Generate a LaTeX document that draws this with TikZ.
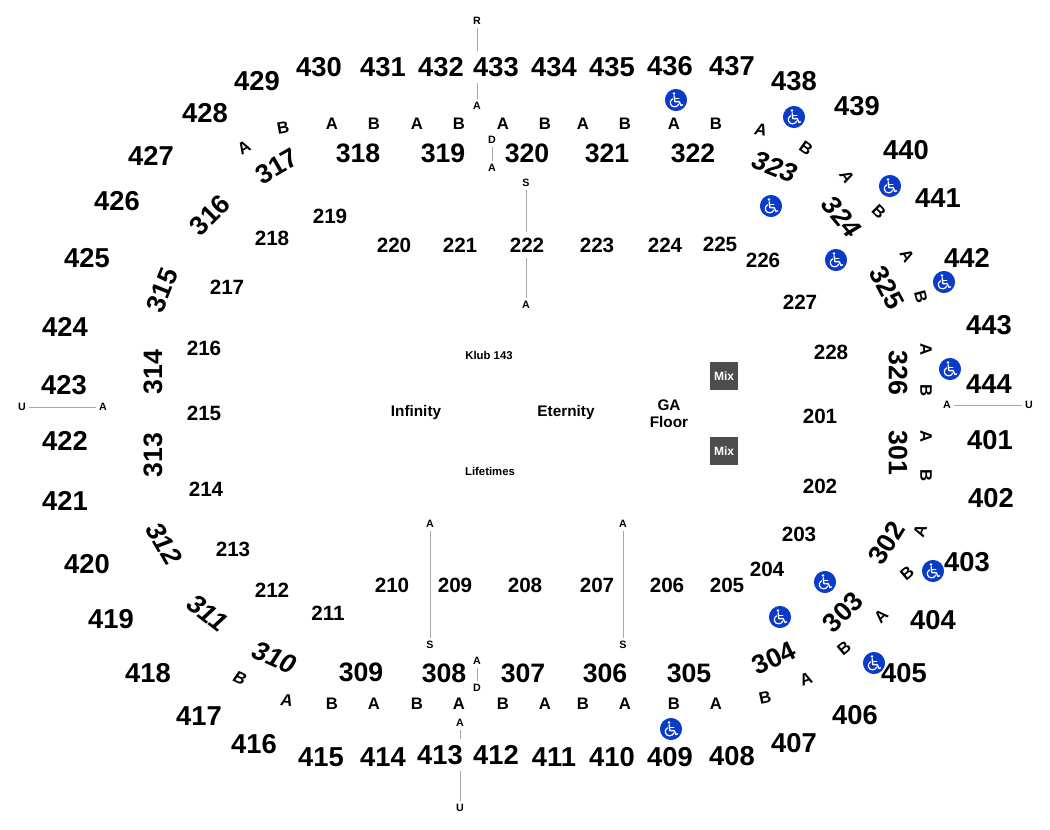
\documentclass[tikz,border=0pt]{standalone}
\usepackage{fontspec}
\setmainfont{Liberation Sans}
\definecolor{wcblue}{HTML}{0B3CC9}
\definecolor{mixgrey}{HTML}{4D4D4D}
\definecolor{rulegrey}{HTML}{A8A8A8}
\tikzset{
  lab/.style={inner sep=0pt,font=\bfseries,text=black},
  upper/.style={lab,font=\fontsize{20.5}{20.5}\selectfont\bfseries},
  mid/.style={lab,font=\fontsize{20}{20}\selectfont\bfseries},
  lower/.style={lab,font=\fontsize{15.5}{15.5}\selectfont\bfseries},
  rowl/.style={lab,font=\fontsize{12.5}{12.5}\selectfont\bfseries},
  tiny/.style={lab,font=\fontsize{8}{8}\selectfont\bfseries},
  zone/.style={lab,font=\fontsize{11.5}{12.5}\selectfont\bfseries,align=center},
  klub/.style={lab,font=\fontsize{8.5}{8.5}\selectfont\bfseries},
  wcb/.style={circle,fill=wcblue,minimum size=16.6pt,inner sep=0pt},
  wcg/.style={white,line width=1pt,line cap=round,line join=round},
  mixbox/.style={fill=mixgrey,text=white,minimum width=21.5pt,minimum height=21.5pt,inner sep=0pt,font=\fontsize{9}{9}\selectfont\bfseries},
  aisle/.style={rulegrey,line width=0.6pt},
  sk/.style={xslant=0.16},
  gapnode/.style={outer sep=2pt}
}
\newcommand{\wcicon}[3]{%
  \node[wcb] (#1) at (#2,#3) {};
  \begin{scope}[shift={(#2,#3)}]
    \fill[white] (-2,-6.5) circle[radius=1.35];
    \draw[wcg] (-1.8,-4.2) -- (-1.2,1.6) -- (3.2,1.6) -- (5,5.6) -- (6.6,4.8);
    \draw[wcg] (-1.5,-1.6) -- (2.8,-1.6);
    \draw[wcg,line width=0.9pt] (-3.4,-1.2) .. controls (-7.6,1.2) and (-5.6,7.2) .. (-1.2,6.8) .. controls (0.8,6.6) and (2.2,5.6) .. (2.8,4);
  \end{scope}}
\begin{document}
\begin{tikzpicture}[x=0.75pt,y=-0.75pt]
\useasboundingbox (0,0) rectangle (1050,830);
% upper ring
\foreach \t/\x/\y in {429/257/81,430/319/67,431/383/67,432/441/67,433/496/67,434/554/67,435/612/67,436/670/66,437/732/66,438/794/81,439/857/106,440/906/150,441/938/198,442/967/258,443/989/325,444/989/384,401/990/440,402/991/498,403/967/562,404/933/620,405/904/673,406/855/715,407/794/743,408/732/756,409/670/757,410/612/757,411/554/757,412/496/755,413/440/755,414/383/757,415/321/757,416/254/744,417/199/716,418/148/673,419/111/619,420/87/564,421/65/501,422/65/441,423/64/385,424/65/327,425/87/258,426/117/201,427/151/156,428/205/113}
  {\node[upper,gapnode] (n\t) at (\x,\y) {\t};}
% middle ring
\foreach \t/\x/\y/\r in {301/898/453/-90,326/898/373/-90,325/887/288/-62,302/887/543/58,303/843/612/45,304/774/658/25,305/689/673/0,306/605/673/0,307/523/673/0,308/444/673/0,309/361/672/0,313/153/455/90,314/153/372/90,315/162/290/68,316/210/215/45,317/277/166/30,318/358/153/0,319/443/153/0,320/527/153/0,321/607/153/0,322/693/153/0}
  {\node[mid,rotate=\r] (n\t) at (\x,\y) {\t};}
\foreach \t/\x/\y/\r in {310/275/658/-24,311/208/613/-38,312/164/544/-60,323/775/167/-22,324/842/217/-50}
  {\node[mid,rotate=\r,sk] (n\t) at (\x,\y) {\t};}
% lower ring
\foreach \t/\x/\y in {201/820/416,202/820/486,203/799/534,204/767/569,205/727/585,206/667/585,207/597/585,208/525/585,209/455/585,210/392/585,211/328/613,212/272/590,213/233/549,214/206/489,215/204/413,216/204/348,217/227/287,218/272/238,219/330/216,220/394/245,221/460/245,222/527/245,223/597/245,224/665/245,225/720/244,226/763/260,227/800/302,228/831/352}
  {\node[lower,gapnode] (n\t) at (\x,\y) {\t};}
% row letters
\foreach \t/\x/\y/\r [count=\i] in {B/283/128/10,A/332/124/0,B/374/124/0,A/417/124/0,B/459/124/0,A/503/124/0,B/545/124/0,A/583/124/0,B/625/124/0,A/674/124/0,B/716/124/0,B/806/148/-35,B/879/212/-45,A/907/256/-60,B/921/297/-75,A/926/350/-90,B/926/391/-90,A/926/437/-90,B/926/476/-90,A/920/531/70,B/907/573/40,A/881/616/45,B/844/648/40,A/806/679/20,B/765/698/12,A/716/704/0,B/674/704/0,A/625/704/0,B/583/704/0,A/545/704/0,B/503/704/0,A/459/704/0,B/417/704/0,A/374/704/0,B/332/704/0,A/244/148/30}
  {\node[rowl,rotate=\r] (r\i) at (\x,\y) {\t};}
\foreach \t/\x/\y/\r [count=\i] in {A/761/130/-8,A/847/177/-55,A/287/700/-5,B/240/678/-25}
  {\node[rowl,rotate=\r,sk] (s\i) at (\x,\y) {\t};}
% aisle tags
\node[tiny] (tR) at (477,21) {R};
\node[tiny] (tA1) at (477,106) {A};
\node[tiny] (tD1) at (492,140) {D};
\node[tiny] (tA2) at (492,168) {A};
\node[tiny] (tS1) at (526,183) {S};
\node[tiny] (tA3) at (526,305) {A};
\node[tiny] (tU1) at (22,407) {U};
\node[tiny] (tA4) at (103,407) {A};
\node[tiny] (tA5) at (947,405) {A};
\node[tiny] (tU2) at (1029,405) {U};
\node[tiny] (tA6) at (430,524) {A};
\node[tiny] (tS2) at (430,645) {S};
\node[tiny] (tA7) at (623,524) {A};
\node[tiny] (tS3) at (623,645) {S};
\node[tiny] (tA8) at (477,661) {A};
\node[tiny] (tD2) at (477,688) {D};
\node[tiny] (tA9) at (460,723) {A};
\node[tiny] (tU3) at (460,808) {U};
\begin{scope}[aisle,shorten >=2.5pt,shorten <=2.5pt]
\draw (tR) -- (tR|-n433.north);
\draw (tA1|-n433.south) -- (tA1);
\draw (tD1) -- (tA2);
\draw (tS1) -- (tS1|-n222.north);
\draw (tS1|-n222.south) -- (tA3);
\draw (tU1) -- (tA4);
\draw (tA5) -- (tU2);
\draw (tA6) -- (tS2);
\draw (tA7) -- (tS3);
\draw (tA8) -- (tD2);
\draw (tA9) -- (tA9|-n413.north);
\draw (tA9|-n413.south) -- (tU3);
\end{scope}
% floor
\node[klub] (klub) at (489,355) {Klub 143};
\node[klub] (life) at (490,471) {Lifetimes};
\node[zone] (inf) at (416,413) {Infinity};
\node[zone] (ete) at (566,413) {Eternity};
\node[zone] (ga) at (669,414) {GA\\Floor};
\node[mixbox] (mix1) at (724,376) {Mix};
\node[mixbox] (mix2) at (724,451) {Mix};
% wheelchair marks
\wcicon{w1}{676}{100}
\wcicon{w2}{794}{117}
\wcicon{w3}{890}{186}
\wcicon{w4}{771}{206}
\wcicon{w5}{836}{260}
\wcicon{w6}{944}{282}
\wcicon{w7}{950}{369}
\wcicon{w8}{933}{571}
\wcicon{w9}{825}{582}
\wcicon{w10}{780}{617}
\wcicon{w11}{874}{663}
\wcicon{w12}{671}{729}
\end{tikzpicture}
\end{document}
